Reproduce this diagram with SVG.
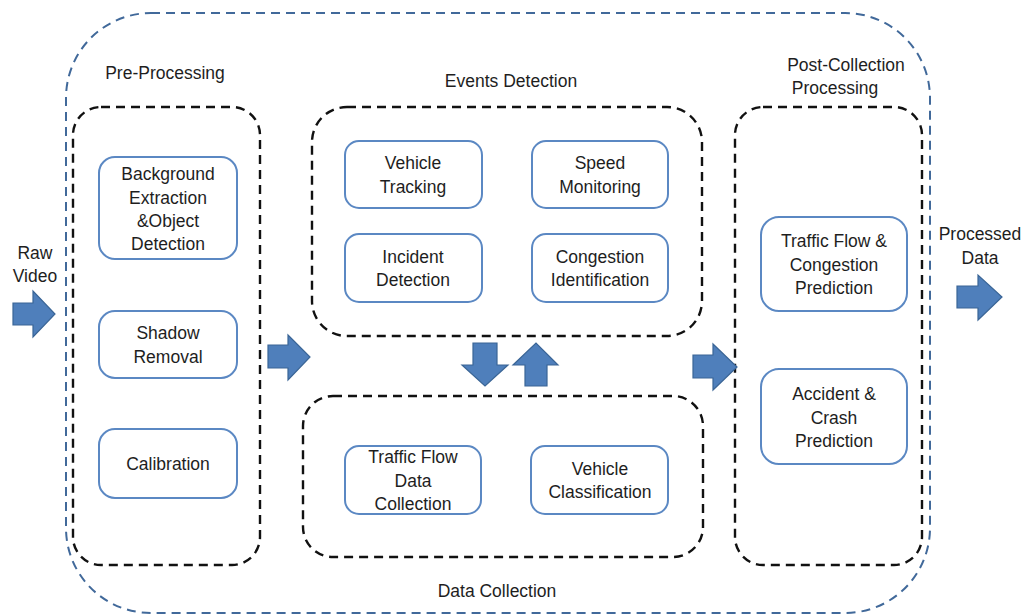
<svg xmlns="http://www.w3.org/2000/svg" width="1023" height="615" viewBox="0 0 1023 615">
<style>
text{font-family:"Liberation Sans",Arial,sans-serif;font-size:17.5px;fill:#1e1e1e;text-anchor:middle}
.outer{fill:none;stroke:#41699a;stroke-width:2;stroke-dasharray:9 6}
.group{fill:none;stroke:#111;stroke-width:2.4;stroke-dasharray:9 6}
.node rect{fill:#fff;stroke:#5b88c3;stroke-width:2}
.arrow{fill:#4f7fbb;stroke:#3a6596;stroke-width:1.2;stroke-linejoin:miter}
</style>
<rect width="1023" height="615" fill="#fff"/>
<g id="outer">
<rect class="outer" x="66" y="13" width="864" height="600" rx="85" ry="85"/>
</g>
<g id="preprocessing">
<rect class="group" x="73" y="107" width="187" height="458" rx="28"/>
<text x="165" y="79">Pre-Processing</text>
</g>
<g id="events">
<rect class="group" x="312" y="107" width="390" height="229" rx="35"/>
<text x="511" y="87">Events Detection</text>
</g>
<g id="datacollection">
<rect class="group" x="303" y="396" width="400" height="161" rx="30"/>
<text x="497" y="597">Data Collection</text>
</g>
<g id="postcollection">
<rect class="group" x="735" y="107" width="187" height="458" rx="28"/>
<text x="846" y="71">Post-Collection</text>
<text x="835" y="94">Processing</text>
</g>
<g id="rawvideo"><text x="35" y="259">Raw</text><text x="35" y="282">Video</text></g>
<g id="processeddata"><text x="980" y="240">Processed</text><text x="980" y="264">Data</text></g>

<g id="n-background" class="node"><rect x="99" y="157" width="138" height="102" rx="16"/>
<text x="168" y="180">Background</text><text x="168" y="204">Extraction</text><text x="168" y="227">&amp;Object</text><text x="168" y="250">Detection</text></g>
<g id="n-shadow" class="node"><rect x="99" y="311" width="138" height="67" rx="16"/>
<text x="168" y="339">Shadow</text><text x="168" y="363">Removal</text></g>
<g id="n-calibration" class="node"><rect x="99" y="429" width="138" height="69" rx="16"/>
<text x="168" y="470">Calibration</text></g>

<g id="n-tracking" class="node"><rect x="345" y="141" width="137" height="67" rx="14"/>
<text x="413" y="169">Vehicle</text><text x="413" y="193">Tracking</text></g>
<g id="n-speed" class="node"><rect x="532" y="141" width="136" height="67" rx="14"/>
<text x="600" y="169">Speed</text><text x="600" y="193">Monitoring</text></g>
<g id="n-incident" class="node"><rect x="345" y="234" width="137" height="68" rx="14"/>
<text x="413" y="263">Incident</text><text x="413" y="286">Detection</text></g>
<g id="n-congestion" class="node"><rect x="532" y="234" width="136" height="68" rx="14"/>
<text x="600" y="263">Congestion</text><text x="600" y="286">Identification</text></g>

<g id="n-trafficdata" class="node"><rect x="345" y="446" width="136" height="68" rx="14"/>
<text x="413" y="463">Traffic Flow</text><text x="413" y="487">Data</text><text x="413" y="510">Collection</text></g>
<g id="n-classification" class="node"><rect x="531" y="446" width="137" height="68" rx="14"/>
<text x="600" y="475">Vehicle</text><text x="600" y="498">Classification</text></g>

<g id="n-trafficpred" class="node"><rect x="761" y="217" width="146" height="94" rx="18"/>
<text x="834" y="247">Traffic Flow &amp;</text><text x="834" y="271">Congestion</text><text x="834" y="294">Prediction</text></g>
<g id="n-accident" class="node"><rect x="761" y="369" width="146" height="95" rx="18"/>
<text x="834" y="400">Accident &amp;</text><text x="834" y="424">Crash</text><text x="834" y="447">Prediction</text></g>

<g id="connectors">
<polygon class="arrow" points="13,303 33,303 33,291 55,314 33,337 33,325 13,325"/>
<polygon class="arrow" points="268,345 288,345 288,335 310,357 288,380 288,368 268,368"/>
<polygon class="arrow" points="693,355 713,355 713,344 737,367 713,390 713,378 693,378"/>
<polygon class="arrow" points="957,286 978,286 978,275 1002,297 978,320 978,308 957,308"/>
<polygon class="arrow" points="473,343 497,343 497,365 508,365 485,386 462,365 473,365"/>
<polygon class="arrow" points="525,386 547,386 547,365 558,365 536,343 513,365 525,365"/>
</g>
</svg>
